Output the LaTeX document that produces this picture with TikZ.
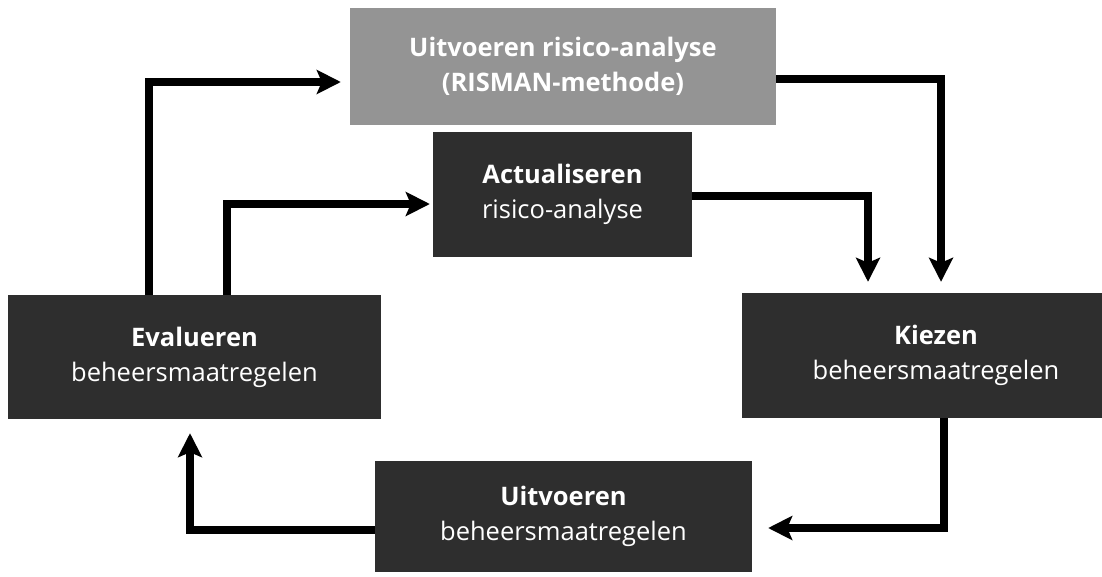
\documentclass[tikz,border=0pt]{standalone}
\usepackage{fontspec}
\setmainfont{Open Sans}
\usetikzlibrary{arrows.meta}
\begin{document}
\begin{tikzpicture}[x=1pt,y=1pt,
  darkbox/.style={draw=none, fill=black!82, text=white, align=center, inner sep=0pt,
    font=\fontsize{25.5}{35}\selectfont},
  lightbox/.style={draw=none, fill=black!42, text=white, align=center, inner sep=0pt,
    font=\bfseries\fontsize{25.5}{35}\selectfont},
  arr/.style={line width=8pt, line join=miter, -{Stealth[length=24pt,width=24pt,inset=5pt]}}
]
\useasboundingbox (0,0) rectangle (1102,-576);
\node[lightbox, minimum width=426pt, minimum height=117pt] (top) at (563,-66.5)
  {Uitvoeren risico-analyse\\(RISMAN-methode)};
\node[darkbox, minimum width=259pt, minimum height=125pt] (act) at (562.5,-194.5)
  {\textbf{Actualiseren}\\risico-analyse};
\node[darkbox, minimum width=373pt, minimum height=124pt] (eval) at (194.5,-357)
  {\textbf{Evalueren}\\beheersmaatregelen};
\node[darkbox, minimum width=360pt, minimum height=125pt,
  label={[text=white, align=center, font=\fontsize{25.5}{35}\selectfont, xshift=14pt]center:{\textbf{Kiezen}\\beheersmaatregelen}}]
  (kiez) at (922,-355.5) {};
\node[darkbox, minimum width=377pt, minimum height=111pt] (uitv) at (563.5,-516.5)
  {\textbf{Uitvoeren}\\beheersmaatregelen};

\draw[arr, shorten >=9pt] ([xshift=-45.5pt]eval.north) |- ([yshift=-15.5pt]top.west);
\draw[arr, shorten >=3pt] ([xshift=32.5pt]eval.north) |- ([yshift=-9.5pt]act.west);
\draw[arr, shorten >=11pt] ([yshift=-1.5pt]act.east) -| ([xshift=-54pt]kiez.north);
\draw[arr, shorten >=11pt] ([yshift=-12.5pt]top.east) -| ([xshift=19pt]kiez.north);
\draw[arr, shorten >=16pt] ([xshift=22pt]kiez.south) |- ([yshift=-11.5pt]uitv.east);
\draw[arr, shorten >=14pt] ([yshift=-13.5pt]uitv.west) -| ([xshift=-4.5pt]eval.south);
\end{tikzpicture}
\end{document}
